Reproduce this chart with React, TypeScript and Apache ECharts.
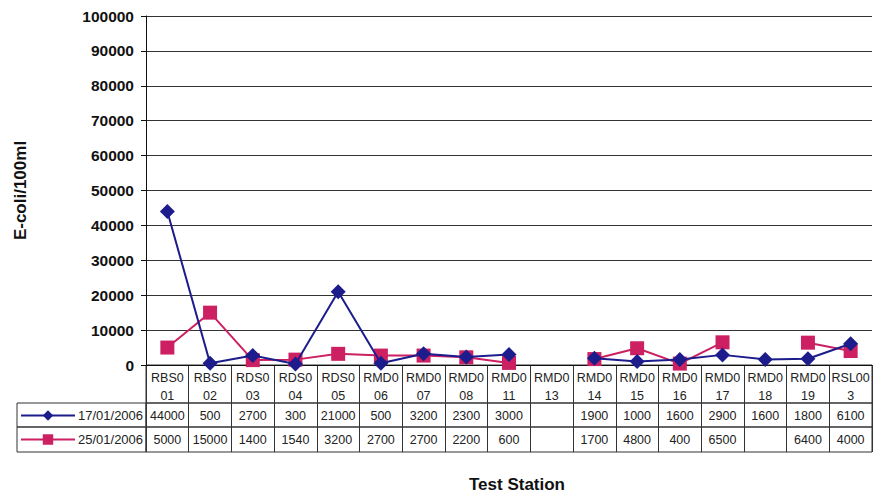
import React, { useEffect, useRef } from "react";
import * as echarts from "echarts";

const categories = [
  "RBS001", "RBS002", "RDS003", "RDS004", "RDS005", "RMD006", "RMD007", "RMD008", "RMD011",
  "RMD013", "RMD014", "RMD015", "RMD016", "RMD017", "RMD018", "RMD019", "RSL003",
];
const tickLabels = [
  "RBS0\n01", "RBS0\n02", "RDS0\n03", "RDS0\n04", "RDS0\n05", "RMD0\n06", "RMD0\n07", "RMD0\n08", "RMD0\n11",
  "RMD0\n13", "RMD0\n14", "RMD0\n15", "RMD0\n16", "RMD0\n17", "RMD0\n18", "RMD0\n19", "RSL00\n3",
];
const seriesNames = ["17/01/2006", "25/01/2006"];
const jan17 = [44000, 500, 2700, 300, 21000, 500, 3200, 2300, 3000, null, 1900, 1000, 1600, 2900, 1600, 1800, 6100];
const jan25 = [5000, 15000, 1400, 1540, 3200, 2700, 2700, 2200, 600, null, 1700, 4800, 400, 6500, null, 6400, 4000];
const yMin = 0;
const yMax = 100000;
const yInterval = 10000;

const FONT = "'Liberation Sans', Arial, sans-serif";
const BORDER = "#333";
const BLUE = "#1c1c8c";
const RED = "#cc2062";

export default function App() {
  const ref = useRef<HTMLDivElement>(null);
  useEffect(() => {
    if (!ref.current) return;
    const chart = echarts.init(ref.current, undefined, { renderer: "svg" });
    const L = 146;
    const W = 726;
    const tableAxis = (
      gridIndex: number,
      data: string[],
      lineHeight: number,
      margin: number,
      formatter?: (v: string, i: number) => string
    ) => ({
      type: "category",
      gridIndex,
      data,
      position: "top",
      boundaryGap: true,
      axisLine: { show: false },
      axisTick: { show: false },
      axisLabel: {
        inside: true,
        interval: 0,
        margin,
        fontFamily: FONT,
        fontSize: 12.5,
        lineHeight,
        color: "#222",
        formatter,
      },
      splitLine: { show: true, interval: 0, lineStyle: { color: BORDER, width: 1 } },
    });
    chart.setOption({
      animation: false,
      backgroundColor: "#fff",
      textStyle: { fontFamily: FONT },
      title: {
        text: "Test Station",
        left: 512,
        top: 471,
        textAlign: "center",
        textStyle: { fontFamily: FONT, fontWeight: "bold", fontSize: 17, color: "#111" },
      },
      grid: [
        { left: L, top: 16, width: W, height: 349 },
        { left: L, top: 365, width: W, height: 38, show: true, borderColor: BORDER, borderWidth: 1 },
        { left: L, top: 403, width: W, height: 24, show: true, borderColor: BORDER, borderWidth: 1 },
        { left: L, top: 427, width: W, height: 25, show: true, borderColor: BORDER, borderWidth: 1 },
      ],
      xAxis: [
        {
          type: "category",
          gridIndex: 0,
          data: categories,
          boundaryGap: true,
          axisLine: { show: true, lineStyle: { color: "#111", width: 1 } },
          axisTick: { show: false },
          axisLabel: { show: false },
          splitLine: { show: false },
        },
        tableAxis(1, tickLabels, 18, 4),
        tableAxis(2, categories, 16, 5, (_v, i) => (jan17[i] == null ? "" : String(jan17[i]))),
        tableAxis(3, categories, 16, 5, (_v, i) => (jan25[i] == null ? "" : String(jan25[i]))),
      ],
      yAxis: [
        {
          type: "value",
          gridIndex: 0,
          min: yMin,
          max: yMax,
          interval: yInterval,
          name: "E-coli/100ml",
          nameLocation: "middle",
          nameGap: 117,
          nameTextStyle: { fontFamily: FONT, fontWeight: "bold", fontSize: 17, color: "#111" },
          axisLine: { show: true, lineStyle: { color: "#111", width: 1 } },
          axisTick: { show: true, length: 5, lineStyle: { color: "#111" } },
          axisLabel: {
            fontFamily: FONT,
            fontWeight: "bold",
            fontSize: 15.5,
            color: "#111",
            margin: 12,
            formatter: (v: number) => String(v),
          },
          splitLine: { show: true, lineStyle: { color: "#333", width: 1 } },
        },
        { type: "value", gridIndex: 1, show: false },
        { type: "value", gridIndex: 2, show: false },
        { type: "value", gridIndex: 3, show: false },
      ],
      legend: [
        {
          data: [seriesNames[0]],
          left: 20,
          top: 409,
          padding: 0,
          itemWidth: 54,
          itemHeight: 13,
          itemGap: 0,
          textStyle: { fontFamily: FONT, fontSize: 13, color: "#222", padding: [0, 0, 0, -2] },
        },
        {
          data: [seriesNames[1]],
          left: 20,
          top: 433,
          padding: 0,
          itemWidth: 54,
          itemHeight: 13,
          itemGap: 0,
          textStyle: { fontFamily: FONT, fontSize: 13, color: "#222", padding: [0, 0, 0, -2] },
        },
      ],
      graphic: [
        { type: "rect", shape: { x: 17, y: 403, width: L - 17, height: 24 }, style: { fill: "none", stroke: BORDER, lineWidth: 1 } },
        { type: "rect", shape: { x: 17, y: 427, width: L - 17, height: 25 }, style: { fill: "none", stroke: BORDER, lineWidth: 1 } },
      ],
      series: [
        {
          name: seriesNames[0],
          type: "line",
          xAxisIndex: 0,
          yAxisIndex: 0,
          data: jan17,
          symbol: "diamond",
          symbolSize: 15,
          color: BLUE,
          lineStyle: { color: BLUE, width: 2 },
          itemStyle: { color: BLUE },
          connectNulls: false,
          z: 3,
        },
        {
          name: seriesNames[1],
          type: "line",
          xAxisIndex: 0,
          yAxisIndex: 0,
          data: jan25,
          symbol: "rect",
          symbolSize: 14,
          color: RED,
          lineStyle: { color: RED, width: 2 },
          itemStyle: { color: RED },
          connectNulls: false,
          z: 2,
        },
      ],
    });
    return () => chart.dispose();
  }, []);
  return (
    <div
      ref={ref}
      style={{ position: "fixed", left: 0, top: 0, width: 873, height: 495, background: "#fff" }}
    />
  );
}
